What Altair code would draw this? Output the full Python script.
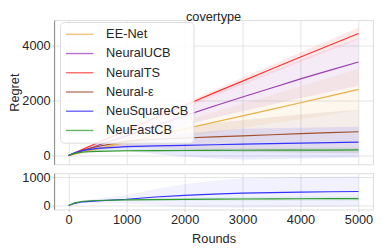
import altair as alt
import pandas as pd

rounds = [0, 100, 250, 500, 1000, 1500, 2000, 2500, 3000, 3500, 4000, 4500, 5000]

names = ["EE-Net", "NeuralUCB", "NeuralTS", "Neural-ε", "NeuSquareCB", "NeuFastCB"]
colors = ["#e8b04a", "#9b3cb0", "#ff3333", "#a0522d", "#3333ff", "#2e9a2e"]

# top panel means
ee_net = [0, 50, 125, 245, 490, 730, 970, 1210, 1450, 1690, 1930, 2170, 2420]
neural_ucb = [0, 75, 185, 365, 730, 1090, 1450, 1800, 2140, 2470, 2800, 3110, 3420]
neural_ts = [0, 95, 235, 465, 920, 1380, 1830, 2280, 2720, 3160, 3600, 4030, 4460]
neural_eps = [0, 80, 190, 330, 526, 595, 642, 685, 720, 760, 800, 840, 870]
neusquarecb = [0, 100, 190, 260, 326, 355, 375, 395, 415, 435, 455, 472, 490]
neufastcb = [0, 80, 130, 155, 175, 182, 186, 190, 193, 196, 198, 200, 205]

# top panel spreads
ee_net_sd = [0, 15, 37, 75, 150, 220, 300, 370, 450, 520, 600, 680, 750]
neural_ucb_sd = [0, 17, 42, 85, 170, 250, 340, 430, 520, 610, 700, 790, 870]
neural_ts_sd = [0, 5, 12, 25, 48, 70, 90, 110, 130, 150, 170, 195, 215]
neural_eps_sd = [0, 25, 60, 120, 240, 330, 420, 500, 570, 640, 700, 750, 800]
neusquarecb_sd = [0, 20, 40, 80, 160, 300, 420, 500, 560, 560, 560, 560, 560]
neufastcb_sd = [0, 10, 20, 30, 45, 55, 60, 65, 70, 75, 80, 85, 90]

# bottom panel
neusquarecb_b = [0, 70, 130, 165, 220, 300, 355, 400, 437, 455, 472, 483, 493]
neufastcb_b = [0, 90, 150, 175, 195, 205, 215, 222, 228, 233, 237, 240, 243]
neusquarecb_b_sd = [0, 20, 40, 80, 150, 280, 405, 470, 520, 525, 528, 530, 530]
neufastcb_b_sd = [0, 10, 20, 30, 40, 50, 60, 65, 70, 75, 80, 82, 85]


def long(series, sds, labels):
    rows = []
    for lab, s, sd in zip(labels, series, sds):
        for r, v, d in zip(rounds, s, sd):
            rows.append({"Rounds": r, "Regret": v, "lo": v - d, "hi": v + d, "method": lab})
    return pd.DataFrame(rows)


top_df = long([ee_net, neural_ucb, neural_ts, neural_eps, neusquarecb, neufastcb],
              [ee_net_sd, neural_ucb_sd, neural_ts_sd, neural_eps_sd, neusquarecb_sd, neufastcb_sd],
              names)
bot_df = long([neusquarecb_b, neufastcb_b], [neusquarecb_b_sd, neufastcb_b_sd],
              ["NeuSquareCB", "NeuFastCB"])

FONT = "Liberation Sans"
xscale = alt.Scale(domain=[-250, 5250], nice=False, zero=False)
cscale = alt.Scale(domain=names, range=colors)

col = alt.Color("method:N", scale=cscale, sort=names,
                legend=alt.Legend(orient="none", legendX=6, legendY=2, title=None,
                                  symbolType="M-1,0H3.31", symbolSize=169, symbolStrokeWidth=1.5,
                                  symbolOpacity=0.7, labelFontSize=13, labelFont=FONT,
                                  labelColor="#262626", labelOffset=27, rowPadding=4.6,
                                  padding=5, fillColor="rgba(255,255,255,0.85)",
                                  strokeColor="#dddddd", cornerRadius=4))

top_y = alt.Y("Regret:Q", scale=alt.Scale(domain=[-320, 4950], nice=False),
              axis=alt.Axis(values=[0, 2000, 4000], title="Regret", titlePadding=0, format="d"))
top_x = alt.X("Rounds:Q", scale=xscale,
              axis=alt.Axis(values=[0, 1000, 2000, 3000, 4000, 5000], labels=False, ticks=False,
                            title=None, domain=False))

top_band = alt.Chart(top_df).mark_area(opacity=0.1).encode(
    x=top_x, y=top_y, y2="hi:Q", color=col, detail="method:N",
).transform_calculate(Regret="datum.lo")

top_line = alt.Chart(top_df).mark_line(strokeWidth=1.2).encode(
    x=top_x, y=top_y, color=col,
)

top = alt.layer(top_band, top_line).properties(
    width=325, height=147,
    title=alt.TitleParams("covertype", fontSize=13, font=FONT, fontWeight="normal",
                          color="#262626", offset=-4),
)

bot_y = alt.Y("Regret:Q", scale=alt.Scale(domain=[-140, 1140], nice=False),
              axis=alt.Axis(values=[0, 1000], title=" ", titlePadding=0, format="d"))
bot_x = alt.X("Rounds:Q", scale=xscale,
              axis=alt.Axis(values=[0, 1000, 2000, 3000, 4000, 5000], title="Rounds",
                            domain=False, titlePadding=7, format="d"))

bot_band = alt.Chart(bot_df).mark_area(opacity=0.07).encode(
    x=bot_x, y=bot_y, y2="hi:Q", color=col, detail="method:N",
).transform_calculate(Regret="datum.lo")

bot_line = alt.Chart(bot_df).mark_line(strokeWidth=1.2).encode(
    x=bot_x, y=bot_y, color=col,
)

bot = alt.layer(bot_band, bot_line).properties(width=325, height=37)

chart = alt.vconcat(top, bot, spacing=5).resolve_scale(color="shared").properties(
    padding=0
).configure_view(stroke="#dddddd", strokeWidth=1).configure_axis(
    labelFont=FONT, labelFontSize=13, labelColor="#262626", labelPadding=2,
    titleFont=FONT, titleFontSize=13, titleColor="#262626", titleFontWeight="normal",
    gridColor="#dcdcdc", gridWidth=0.8, tickColor="#cccccc", tickSize=2,
)

chart.save("out.html", embed_options={"renderer": "svg", "actions": False})
